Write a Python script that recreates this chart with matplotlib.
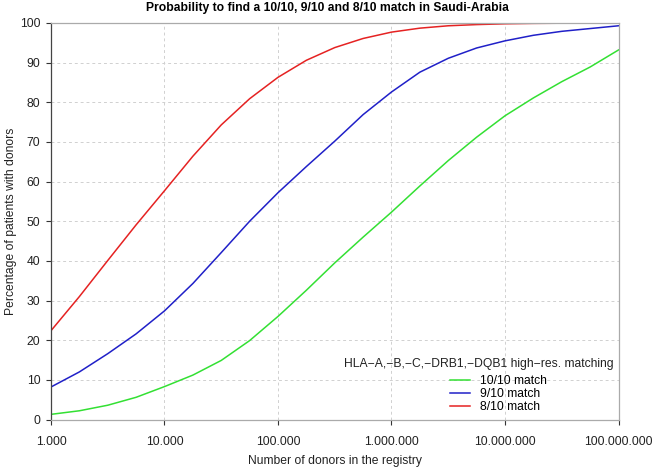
import numpy as np
import matplotlib
matplotlib.use('Agg')
import matplotlib.pyplot as plt
from matplotlib.ticker import FuncFormatter

plt.rcParams['font.family'] = ['Liberation Sans', 'DejaVu Sans']

# log10 of registry size
log_donors = [3.0, 3.25, 3.5, 3.75, 4.0, 4.25, 4.5, 4.75, 5.0, 5.25, 5.5,
              5.75, 6.0, 6.25, 6.5, 6.75, 7.0, 7.25, 7.5, 7.75, 8.0]

match_10 = [1.3, 2.2, 3.6, 5.6, 8.3, 11.2, 14.9, 19.9, 26.0, 32.6, 39.5,
            46.0, 52.3, 58.9, 65.3, 71.2, 76.6, 81.1, 85.2, 88.9, 93.2]
match_9 = [8.2, 12.0, 16.6, 21.6, 27.4, 34.3, 42.1, 50.0, 57.2, 63.8, 70.2,
           76.9, 82.6, 87.6, 91.1, 93.7, 95.5, 96.9, 97.9, 98.6, 99.3]
match_8 = [22.4, 31.0, 40.1, 49.1, 57.7, 66.4, 74.3, 80.9, 86.3, 90.6, 93.8,
           96.1, 97.7, 98.7, 99.3, 99.6, 99.8, 99.9, 99.95, 100.0, 100.0]

labels = ['10/10 match', '9/10 match', '8/10 match']
colors = ['#33e033', '#2020c8', '#e52222']
legend_title = 'HLA\u2212A,\u2212B,\u2212C,\u2212DRB1,\u2212DQB1 high\u2212res. matching'

donors = 10 ** np.array(log_donors)

W, H = 653, 468
fig = plt.figure(figsize=(W / 100, H / 100), dpi=100)
ax = fig.add_axes([51 / W, 1 - 419.5 / H, 567.5 / W, 396.5 / H])

for vals, lab, col in zip([match_10, match_9, match_8], labels, colors):
    ax.plot(donors, vals, color=col, linewidth=1.1, label=lab)

ax.set_xscale('log')
ax.set_xlim(1e3, 1e8)
ax.set_ylim(0, 100)
ax.set_xticks([1e3, 1e4, 1e5, 1e6, 1e7, 1e8])
ax.xaxis.set_minor_locator(plt.NullLocator())
ax.xaxis.set_major_formatter(FuncFormatter(lambda v, p: f"{int(round(v)):,}".replace(',', '.')))
ax.set_yticks(range(0, 101, 10))

ax.grid(True, color='#d0d0d0', linestyle=(0, (3, 3)), linewidth=0.7)
ax.tick_params(direction='out', length=3.6, width=0.8, color='#333333',
               labelsize=8.7, labelcolor='#222222')
ax.tick_params(axis='y', pad=4)
ax.tick_params(axis='x', pad=8)

for side in ['top', 'right', 'bottom']:
    ax.spines[side].set_color('#aaaaaa')
ax.spines['left'].set_color('#444444')
for s in ax.spines.values():
    s.set_linewidth(0.9)

fig.text(335 / W, 1 - 461 / H, 'Number of donors in the registry', fontsize=8.7,
         color='#222222', ha='center', va='center')
fig.text(11 / W, 1 - 221 / H, 'Percentage of patients with donors', fontsize=8.7,
         color='#222222', ha='center', va='center', rotation=90)
fig.text(327 / W, 1 - 8.5 / H, 'Probability to find a 10/10, 9/10 and 8/10 match in Saudi-Arabia',
         fontsize=8.7, fontweight='bold', ha='center', va='center')

fig.text(614 / W, 1 - 363.5 / H, legend_title, fontsize=8.7, color='#222222',
         ha='right', va='center')
leg = ax.legend(loc='upper left', bbox_to_anchor=(450 / W, 1 - 375 / H),
                bbox_transform=fig.transFigure, frameon=False, fontsize=8.7,
                handlelength=1.65, handletextpad=0.85, labelspacing=0.1,
                borderpad=0, borderaxespad=0)

fig.savefig('out.png', dpi=100)
